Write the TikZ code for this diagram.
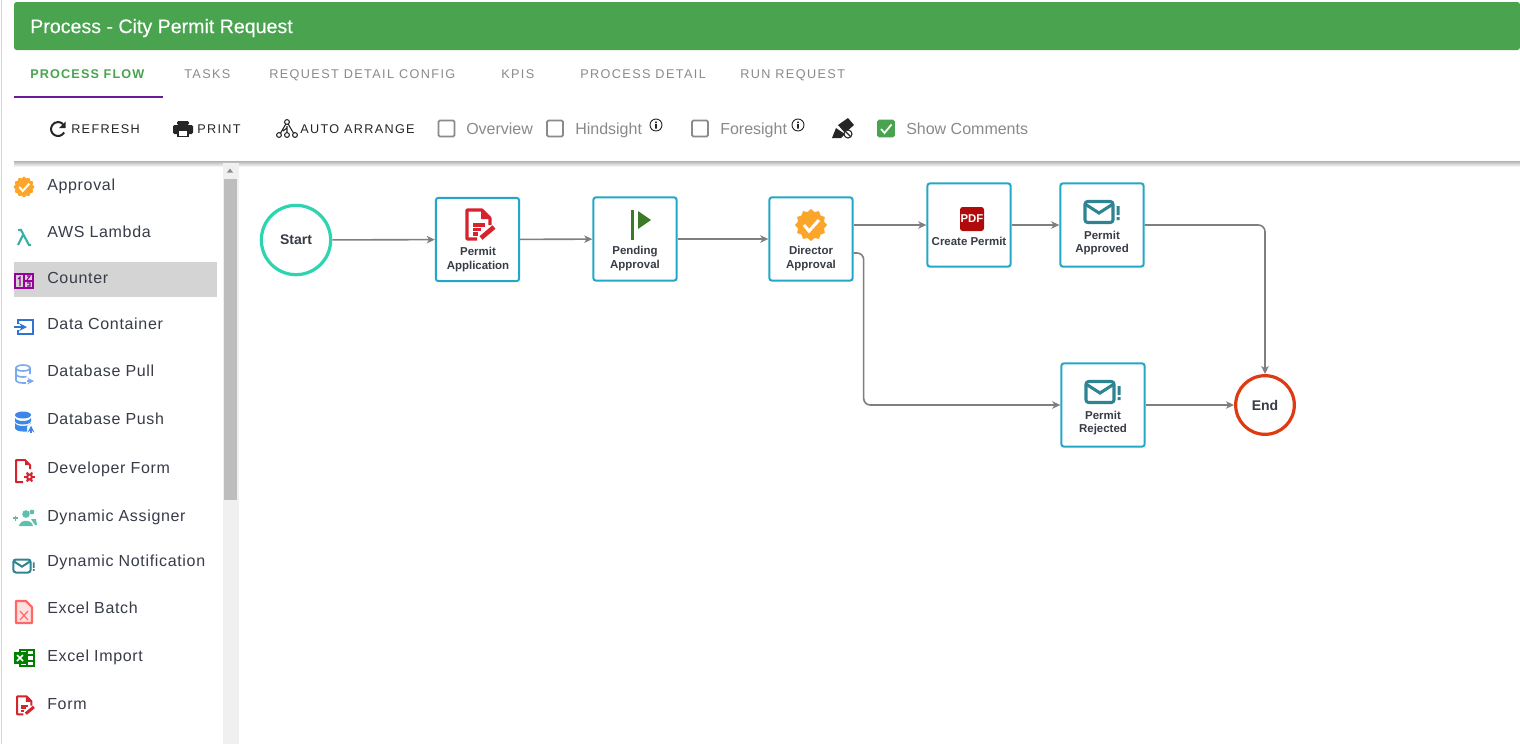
\documentclass[tikz,border=0pt]{standalone}
\usepackage{fontspec}
\setmainfont{Liberation Sans}
\newfontfamily\tabfont[LetterSpace=11]{Liberation Sans}
\newfontfamily\tabboldfont[LetterSpace=9]{Liberation Sans}
\newfontfamily\toolfont[LetterSpace=10.5]{Liberation Sans}
\newfontfamily\sidefont[LetterSpace=4.2]{Liberation Sans}
\newfontfamily\titlefont[FakeBold=0.25]{Liberation Sans}
\usetikzlibrary{arrows.meta,calc,positioning}
\definecolor{barGreen}{HTML}{49A34F}
\definecolor{tabPurple}{HTML}{6A1B9A}
\definecolor{boxBlue}{HTML}{22A7C7}
\definecolor{startGreen}{HTML}{2DD4AF}
\definecolor{endRed}{HTML}{DE3B12}
\definecolor{linkGray}{HTML}{7F7F7F}
\definecolor{inkDark}{HTML}{383C47}
\definecolor{muted}{HTML}{8A8A8A}
\definecolor{badgeOrange}{HTML}{FBA52B}
\definecolor{formRed}{HTML}{D7232E}
\definecolor{mailTeal}{HTML}{2F8492}
\definecolor{flagGreen}{HTML}{3B7A27}
\definecolor{pdfRed}{HTML}{B00A0A}
\definecolor{pushBlue}{HTML}{3D87E8}
\definecolor{pullBlue}{HTML}{78AAF0}
\definecolor{boxBlueDark}{HTML}{2F74D0}
\definecolor{lambdaTeal}{HTML}{3DAEA5}
\definecolor{assignTeal}{HTML}{5FBFAF}
\newcommand{\iconw}{1.5pt}
\tikzset{
  flowbox/.style={draw=boxBlue,line width=1.5pt,rounded corners=2pt,fill=white,minimum size=62.5pt,inner sep=0pt},
  flowtext/.style={font=\fontsize{8.6}{10.4}\selectfont\bfseries,text=inkDark,align=center,inner sep=0pt},
  flowround/.style={circle,line width=2.4pt,fill=white,inner sep=0pt,font=\fontsize{10.5}{12}\selectfont\bfseries,text=inkDark},
  tablabel/.style={font=\fontsize{9.5}{11}\tabfont,text=muted,anchor=west,inner sep=0pt,text height=6.8pt,text depth=0pt},
  toollabel/.style={font=\fontsize{9.5}{11}\toolfont,text=black!85,anchor=west,inner sep=0pt,text height=6.8pt,text depth=0pt},
  checklabel/.style={font=\fontsize{12}{14}\selectfont,text=muted,anchor=west,inner sep=0pt,text height=8.6pt,text depth=0pt},
  sidelabel/.style={font=\fontsize{12}{14}\sidefont,text=inkDark,anchor=west,inner sep=0pt,text height=8.6pt,text depth=0pt},
  checkbox/.style={draw=muted,line width=1.3pt,rounded corners=1pt,fill=white,minimum size=12pt,inner sep=0pt},
  link/.style={color=linkGray,line width=1.2pt,-{Stealth[length=6pt,width=5.5pt,inset=1.6pt]},rounded corners=5pt},
  pics/icbadge/.style={code={
    \fill[badgeOrange] (0:16) \foreach \a in {15,30,...,345}{ -- (\a:{mod(\a,30)==0?16:13.5}) } -- cycle;
    \draw[white,line width=\iconw] (-7,0) -- (-2,6) -- (8,-5);
  }},
  pics/icform/.style={code={
    \draw[formRed,line width=\iconw,line join=round] (-1,15) -- (-11,15) -- (-11,-14) -- (4,-14) -- (12,-6) -- (12,1);
    \fill[formRed] (3,-14) -- (12,-5) -- (3,-5) -- cycle;
    \draw[formRed,line width=\iconw] (-5,1) -- (7,1) (-5,5.5) -- (3,5.5) (-5,10) -- (0,10);
    \draw[formRed,line width=1.5*\iconw] (3,14) -- (16,3);
  }},
  pics/icflag/.style={code={
    \fill[flagGreen] (-2,-15) rectangle (1,15);
    \fill[flagGreen] (5,-14) -- (18,-5) -- (5,4) -- cycle;
  }},
  pics/icmail/.style={code={
    \draw[mailTeal,line width=\iconw,rounded corners=2pt] (-14,-10.5) rectangle (14,10.5);
    \draw[mailTeal,line width=\iconw] (-14,-8) -- (0,1) -- (14,-8);
    \fill[mailTeal] (17.5,-6) rectangle (20.5,3) (17.5,5) rectangle (20.5,8);
  }},
  pics/iclambda/.style={code={
    \draw[lambdaTeal,line width=1.6pt] (-6,-7) -- (-3,-7) -- (5,8) -- (7,8) (-1,-2) -- (-6,8);
  }},
  pics/iccounter/.style={code={
    \draw[violet!80!magenta,line width=1.5pt] (-9,-7) rectangle (9,7) (0,-7) -- (0,7) (0,0) -- (9,0);
    \draw[violet!80!magenta,line width=.8pt] (-6,-2) -- (-4,-4) -- (-4,5) (3,-5) -- (6,-5) -- (3,-1) (3,2) -- (6,2) -- (6,5) -- (3,5);
  }},
  pics/iccontainer/.style={code={
    \draw[boxBlueDark,line width=1.6pt] (-6,-3) -- (-6,-7) -- (9,-7) -- (9,7) -- (-6,7) -- (-6,3);
    \draw[boxBlueDark,line width=1.6pt,-stealth] (-10,0) -- (3,0);
  }},
  pics/icpull/.style={code={
    \draw[pullBlue,line width=1.2pt] (-1,-6) ellipse (7 and 3);
    \draw[pullBlue,line width=1.2pt] (-8,-6) -- (-8,6) arc (180:90:7 and 3) -- (2,9);
    \draw[pullBlue,line width=1.2pt] (6,-6) -- (6,0) (-8,0) arc (180:60:7 and 3);
    \draw[pullBlue,line width=1.2pt,-stealth] (3,7) -- (10,7);
  }},
  pics/icpush/.style={code={
    \fill[pushBlue] (-1,-7) ellipse (8 and 3.5);
    \fill[pushBlue] (-9,-4.5) arc (180:0:8 and 3.5) -- (7,-1) arc (0:180:8 and 3.5) -- cycle;
    \fill[pushBlue] (-9,0.5) arc (180:0:8 and 3.5) -- (7,1.5) -- (3,4) -- (3,9.5) -- (-1,9.5) arc (90:180:8 and 3.5) -- cycle;
    \draw[pushBlue,line width=1.3pt,-stealth] (7,11) -- (7,3.5);
  }},
  pics/icdevform/.style={code={
    \draw[formRed,line width=1.5pt,line join=round] (-1,11) -- (-8,11) -- (-8,-11) -- (1,-11) -- (6,-6) -- (6,-2);
    \fill[formRed] (1,-11) -- (6,-6) -- (1,-6) -- cycle;
    \fill[formRed] (5.5,6) circle (3.6);
    \foreach \a in {0,60,...,300} \draw[formRed,line width=1.6pt] (5.5,6) -- ++(\a:5.2);
    \fill[white] (5.5,6) circle (1.3);
  }},
  pics/icassign/.style={code={
    \fill[assignTeal] (2,-5) circle (3.8);
    \fill[assignTeal] (-5,7) .. controls (-4,0) and (8,0) .. (9,7) -- cycle;
    \fill[assignTeal] (8,-7) circle (2.4) (7,0) -- (12,0) -- (13,6) -- (11,6) -- cycle;
    \draw[assignTeal,line width=1.3pt] (-11,-1) -- (-6,-1) (-8.5,-3.5) -- (-8.5,1.5);
  }},
  pics/icexcelbatch/.style={code={
    \draw[red!60!white,line width=1.6pt,fill=red!12,line join=round] (-8,-11) -- (2,-11) -- (8,-5) -- (8,11) -- (-8,11) -- cycle;
    \draw[red!60!white,line width=.9pt] (-4,-1) -- (4,8) (4,-1) -- (-4,8);
  }},
  pics/icexcel/.style={code={
    \draw[green!50!black,line width=1pt] (-4,-8) rectangle (10,8) (-4,-3) -- (10,-3) (-4,3) -- (10,3) (3,-8) -- (3,8);
    \fill[green!50!black] (-10,-6) rectangle (2,6);
    \draw[white,line width=1.1pt] (-7,-3) -- (-1,3) (-1,-3) -- (-7,3);
  }},
  pics/icinfo/.style={code={
    \draw[black!85,line width=.7pt] (0,0) circle (6);
    \fill[black!85] (-.8,-1) rectangle (.8,3.5) (-.8,-3.5) rectangle (.8,-2);
  }}
}
\begin{document}
\begin{tikzpicture}[x=0.75pt,y=-0.75pt]
  \useasboundingbox (0,0) rectangle (1520,744);
  \fill[white] (0,0) rectangle (1520,744);
  \draw[green!30!black!20,line width=.75pt] (1,0) -- (1,744);
  % header and tabs
  \fill[barGreen,rounded corners=2pt] (14,2) -- (1520,2) -- (1520,50) -- (14,50) -- cycle;
  \node (headline) [anchor=west,inner sep=0pt,text=white,text height=10.6pt,text depth=0pt,font=\fontsize{14.7}{17}\titlefont] at (30,26) {Process - City Permit Request};
  \node (tabflow) [tablabel,text=barGreen,font=\fontsize{9.5}{11}\tabboldfont\bfseries] at (30,74) {PROCESS FLOW};
  \node (tabtasks) [tablabel] at (184,74) {TASKS};
  \node (tabconfig) [tablabel] at (269,74) {REQUEST DETAIL CONFIG};
  \node (tabkpis) [tablabel] at (501,74) {KPIS};
  \node (tabdetail) [tablabel] at (580,74) {PROCESS DETAIL};
  \node (tabrun) [tablabel] at (740,74) {RUN REQUEST};
  \fill[tabPurple] (14,96) rectangle (163,98);
  % toolbar
  \draw[black!85,line width=1.5pt] (64.1,132.5) arc (30:315:7);
  \fill[black!85] (65.5,121.5) -- (65.5,128) -- (59,128) -- cycle;
  \node (btnrefresh) [toollabel] at (71,129) {REFRESH};
  \fill[black!85,rounded corners=1pt] (177,121) rectangle (189,125) (173,125) rectangle (193,134);
  \fill[black!85] (177,134) rectangle (189,137);
  \fill[white] (179,131) rectangle (187,136);
  \node (btnprint) [toollabel] at (197,129) {PRINT};
  \draw[black!85,line width=.8pt] (287,122) -- (280,134) (287,122) -- (294,134) (287,126) -- (287,134) (287,128) -- (283,131);
  \foreach \dx/\dy in {287/122,279/135,287/135,295/135}
    \draw[black!85,line width=.8pt,fill=white] (\dx,\dy) circle (2.4);
  \node (btnarrange) [toollabel] at (300,129) {AUTO ARRANGE};
  \node (chkoverview) [checkbox] at (446.5,128.5) {};
  \node (lbloverview) [checklabel] at (466,128.5) {Overview};
  \node (chkhindsight) [checkbox] at (555,128.5) {};
  \node (lblhindsight) [checklabel] at (575,128.5) {Hindsight};
  \pic at (656,125) {icinfo};
  \node (chkforesight) [checkbox] at (700,128.5) {};
  \node (lblforesight) [checklabel] at (720,128.5) {Foresight};
  \pic at (798,125) {icinfo};
  \fill[black!85] (838,125) -- (848,118) -- (854,125) -- (845,133) -- cycle;
  \fill[black!85] (832,138) -- (836,128) -- (845,134) -- (841,138) -- cycle;
  \draw[black!85,line width=.8pt,fill=white] (848,134) circle (4);
  \draw[black!85,line width=.8pt] (845.5,131.5) -- (850.5,136.5);
  \node (chkcomments) [checkbox,draw=barGreen,fill=barGreen] at (886,128.5) {};
  \draw[white,line width=1.3pt] (881,129) -- (884.5,133) -- (891.5,124.5);
  \node (lblcomments) [checklabel] at (906,128.5) {Show Comments};
  \shade[top color=black!30,bottom color=white] (14,161) rectangle (1520,167);
  % left palette
  \fill[black!6] (223,163) rectangle (239,744);
  \fill[black!26] (224,179) rectangle (237,500);
  \fill[black!45] (227,172.5) -- (233,172.5) -- (230,168.5) -- cycle;
  \fill[black!17] (14,262) rectangle (217,297);
  \foreach \itemid/\itemy/\iconid/\iconx/\icony/\iconsc/\itemtext in {
      approval/185/icbadge/24/187/.66/Approval,lambda/232/iclambda/24/237/1/AWS Lambda,
      counter/278/iccounter/24/281/1/Counter,container/324/iccontainer/24/327/1/Data Container,
      pull/371/icpull/24/374/1/Database Pull,push/419/icpush/24/422/1/Database Push,
      devform/468/icdevform/24/471/1/Developer Form,assigner/516/icassign/24/519/1/Dynamic Assigner,
      notify/561/icmail/22/566/.62/Dynamic Notification,batch/608/icexcelbatch/24/612/1/Excel Batch,
      import/656/icexcel/24/658/1/Excel Import,form/704/icform/24/705/.62/Form}
  {
    \node (side\itemid) [sidelabel] at (47,\itemy) {\itemtext};
    \pic[scale=\iconsc] at (\iconx,\icony) {\iconid};
  }
  % process flow
  \renewcommand{\iconw}{2.3pt}
  \node (start) [flowround,draw=startGreen,minimum size=52pt] at (296,240) {Start};
  \node (permitapp) [flowbox] at (477.5,239.5) {};
  \node (pending) [flowbox] at (635,239) {};
  \node (director) [flowbox] at (811,239) {};
  \node (createpermit) [flowbox] at (969,225) {};
  \node (approved) [flowbox] at (1102,225) {};
  \node (rejected) [flowbox] at (1103,405) {};
  \node (end) [flowround,draw=endRed,minimum size=44pt] at (1265,405) {End};
  \pic at (478,224) {icform};
  \pic at (633,225) {icflag};
  \pic at (811,225) {icbadge};
  \fill[pdfRed,rounded corners=2pt] (960,207) rectangle (984,231);
  \pic at (1099,212) {icmail};
  \pic at (1100,392) {icmail};
  \node (pdftag) [inner sep=0pt,text=white,font=\fontsize{8.5}{9}\selectfont\bfseries] at (972,219) {PDF};
  \node (permitapptext) [flowtext] at (478,259.5) {Permit\\Application};
  \node (pendingtext) [flowtext] at (635,258.5) {Pending\\Approval};
  \node (directortext) [flowtext] at (811,258.5) {Director\\Approval};
  \node (createtext) [flowtext] at (969,241) {Create Permit};
  \node (approvedtext) [flowtext] at (1102,243) {Permit\\Approved};
  \node (rejectedtext) [flowtext] at (1103,423) {Permit\\Rejected};
  \path[link]
    (start) edge (permitapp)
    (permitapp) edge (pending)
    (pending) edge (director)
    ([yshift=10.5pt]director.east) edge (createpermit)
    (createpermit) edge (approved)
    (rejected) edge (end);
  \draw[link] ([yshift=-10.5pt]director.east) -- ++(10,0) |- (rejected);
  \draw[link] (approved) -| (end);
\end{tikzpicture}
\end{document}
